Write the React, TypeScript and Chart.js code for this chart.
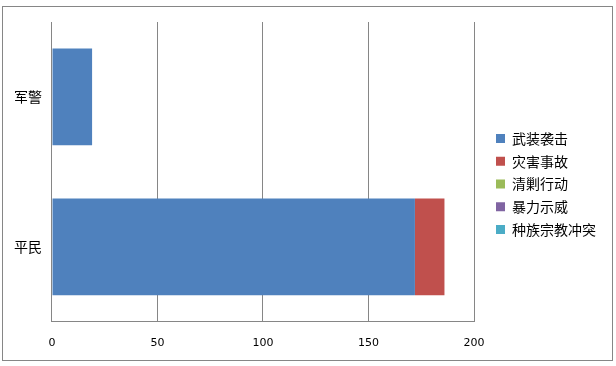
import React, { useEffect, useRef } from "react";
import { Chart, registerables } from "chart.js";
Chart.register(...registerables);

const categories = ["军警", "平民"];
const seriesNames = ["武装袭击", "灾害事故", "清剿行动", "暴力示威", "种族宗教冲突"];
const seriesColors = ["#4F81BD", "#C0504D", "#9BBB59", "#8064A2", "#4BACC6"];
const armedAttack = [19, 172];
const disaster = [0, 14];
const clearance = [0, 0];
const violentProtest = [0, 0];
const ethnicConflict = [0, 0];
const xTicks = [0, 50, 100, 150, 200];

const PLOT_RIGHT = 474;
const LEGEND_PAD = 8.75;
const LEGEND_LEFT = 496 - LEGEND_PAD;
const LEGEND_SHIFT_Y = -9.5;

const borderPlugin = {
  id: "outerBorder",
  beforeDraw(chart: any) {
    const ctx = chart.ctx;
    ctx.save();
    ctx.fillStyle = "#ffffff";
    ctx.fillRect(0, 0, chart.width, chart.height);
    ctx.strokeStyle = "#868686";
    ctx.lineWidth = 1;
    ctx.strokeRect(2.5, 6.5, 610, 354);
    ctx.restore();
  },
  beforeLayout(chart: any) {
    const lg = chart.legend;
    if (lg && !lg._patchedFit) {
      const orig = lg.fit.bind(lg);
      lg.fit = function () {
        orig();
        this.width = chart.width - PLOT_RIGHT;
      };
      lg._patchedFit = true;
    }
  },
  afterLayout(chart: any) {
    const lg = chart.legend;
    if (lg) {
      lg.left = LEGEND_LEFT;
      lg.width = lg.right - lg.left;
      lg.top += LEGEND_SHIFT_Y;
      lg.bottom += LEGEND_SHIFT_Y;
      lg.adjustHitBoxes && lg.adjustHitBoxes();
    }
  },
};

export default function App() {
  const ref = useRef<HTMLCanvasElement>(null);
  useEffect(() => {
    const values = [armedAttack, disaster, clearance, violentProtest, ethnicConflict];
    const chart = new Chart(ref.current!, {
      type: "bar",
      data: {
        labels: categories,
        datasets: seriesNames.map((n, i) => ({
          label: n,
          data: values[i],
          backgroundColor: seriesColors[i],
          borderWidth: 0,
          barPercentage: 0.645,
          categoryPercentage: 1,
        })),
      },
      options: {
        indexAxis: "y",
        animation: false,
        responsive: false,
        maintainAspectRatio: false,
        layout: { padding: { left: 4, right: 0, top: 22, bottom: 1 } },
        plugins: {
          tooltip: { enabled: false },
          legend: {
            position: "right",
            labels: {
              boxWidth: 9,
              boxHeight: 9,
              padding: LEGEND_PAD,
              color: "#000",
              font: { family: "'Noto Sans CJK SC'", size: 14 },
            },
          },
        },
        scales: {
          x: {
            stacked: true,
            min: 0,
            max: 200,
            afterBuildTicks: (s: any) => {
              s.ticks = xTicks.map((v) => ({ value: v }));
            },
            grid: { color: "#868686", drawTicks: false },
            border: { color: "#868686" },
            ticks: {
              color: "#000",
              padding: 15,
              font: { family: "'DejaVu Sans'", size: 11 },
            },
          },
          y: {
            stacked: true,
            grid: { display: false, drawTicks: false },
            border: { color: "#868686" },
            ticks: {
              color: "#000",
              padding: 10,
              font: { family: "'Noto Sans CJK SC'", size: 14 },
            },
          },
        },
      },
      plugins: [borderPlugin],
    });
    return () => chart.destroy();
  }, []);
  return (
    <div style={{ position: "fixed", left: 0, top: 0, width: 616, height: 366 }}>
      <canvas ref={ref} width={616} height={366} style={{ width: 616, height: 366 }} />
    </div>
  );
}
